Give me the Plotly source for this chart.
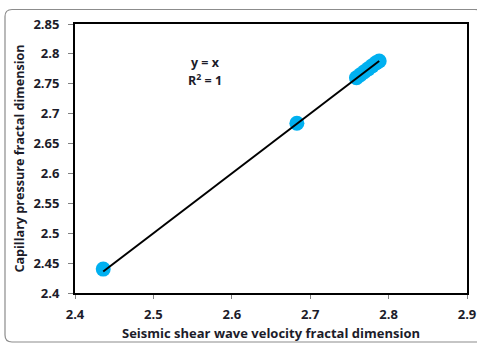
import plotly.graph_objects as go

# Fractal dimensions from the two methods
shear_wave_fd = [2.436, 2.683, 2.759, 2.764, 2.769, 2.774, 2.779, 2.784, 2.788]
capillary_fd = [2.440, 2.684, 2.760, 2.765, 2.770, 2.775, 2.780, 2.785, 2.788]

x_ticks = [2.4, 2.5, 2.6, 2.7, 2.8, 2.9]
y_ticks = [2.4, 2.45, 2.5, 2.55, 2.6, 2.65, 2.7, 2.75, 2.8, 2.85]

# Linear fit y = x over the data range
fit_x = [min(shear_wave_fd), max(shear_wave_fd)]
fit_y = list(fit_x)

W, H = 477, 344
L, R, T, B = 75, 10, 24, 51
pw, ph = W - L - R, H - T - B

def px_to_paper(x, y):
    return (x - L) / pw, (H - B - y) / ph

# rounded outer border of the chart area
x0, y0 = px_to_paper(5, 9.5)
x1, y1 = px_to_paper(482, 342)
rx, ry = 7 / pw, 7 / ph
border = (
    f"M {x0 + rx} {y0} L {x1 - rx} {y0} Q {x1} {y0} {x1} {y0 - ry} "
    f"L {x1} {y1 + ry} Q {x1} {y1} {x1 - rx} {y1} "
    f"L {x0 + rx} {y1} Q {x0} {y1} {x0} {y1 + ry} "
    f"L {x0} {y0 - ry} Q {x0} {y0} {x0 + rx} {y0} Z"
)

font_family = "Open Sans"
text_color = "#1c1c2a"

fig = go.Figure()
fig.add_trace(go.Scatter(
    x=shear_wave_fd, y=capillary_fd, mode="markers",
    marker=dict(color="#00B0F0", size=15, line=dict(width=0)),
    showlegend=False, hoverinfo="skip",
))
fig.add_trace(go.Scatter(
    x=fit_x, y=fit_y, mode="lines",
    line=dict(color="black", width=2),
    showlegend=False, hoverinfo="skip",
))

# trendline equation and coefficient of determination
fit_labels = [("<b>y = x</b>", 2.7855), ("<b>R<sup>2</sup> = 1</b>", 2.7555)]
for txt, yy in fit_labels:
    fig.add_annotation(
        x=2.566, y=yy, xref="x", yref="y", text=txt,
        showarrow=False, align="center",
        font=dict(family=font_family, size=12.5, color=text_color),
    )

fig.update_layout(
    width=W, height=H,
    margin=dict(l=L, r=R, t=T, b=B, autoexpand=False),
    paper_bgcolor="white", plot_bgcolor="white",
    font=dict(family=font_family, size=12, color=text_color),
    shapes=[dict(type="path", path=border, xref="paper", yref="paper",
                 line=dict(color="#8c8c8c", width=1.2), layer="below")],
    xaxis=dict(
        range=[2.4, 2.9], tickvals=x_ticks, ticktext=[f"{v:g}" for v in x_ticks],
        automargin=False,
        showgrid=False, zeroline=False,
        showline=True, linecolor="black", linewidth=2, mirror=True,
        ticks="outside", ticklen=4, tickcolor="#808080",
        ticklabelstandoff=4,
        tickfont=dict(family=font_family, size=13, color=text_color, weight="bold"),
        title=dict(text="<b>Seismic shear wave velocity fractal dimension</b>",
                   font=dict(family=font_family, size=13, color=text_color),
                   standoff=7),
    ),
    yaxis=dict(
        range=[2.4, 2.85], tickvals=y_ticks, ticktext=[f"{v:g}" for v in y_ticks],
        automargin=False,
        showgrid=False, zeroline=False,
        showline=True, linecolor="black", linewidth=2, mirror=True,
        ticks="outside", ticklen=5, tickcolor="#808080",
        ticklabelstandoff=6,
        tickfont=dict(family=font_family, size=13, color=text_color, weight="bold"),
        title=dict(text="<b>Capillary pressure fractal dimension</b>",
                   font=dict(family=font_family, size=12.6, color=text_color),
                   standoff=6),
    ),
)

fig.write_html("out.html")
